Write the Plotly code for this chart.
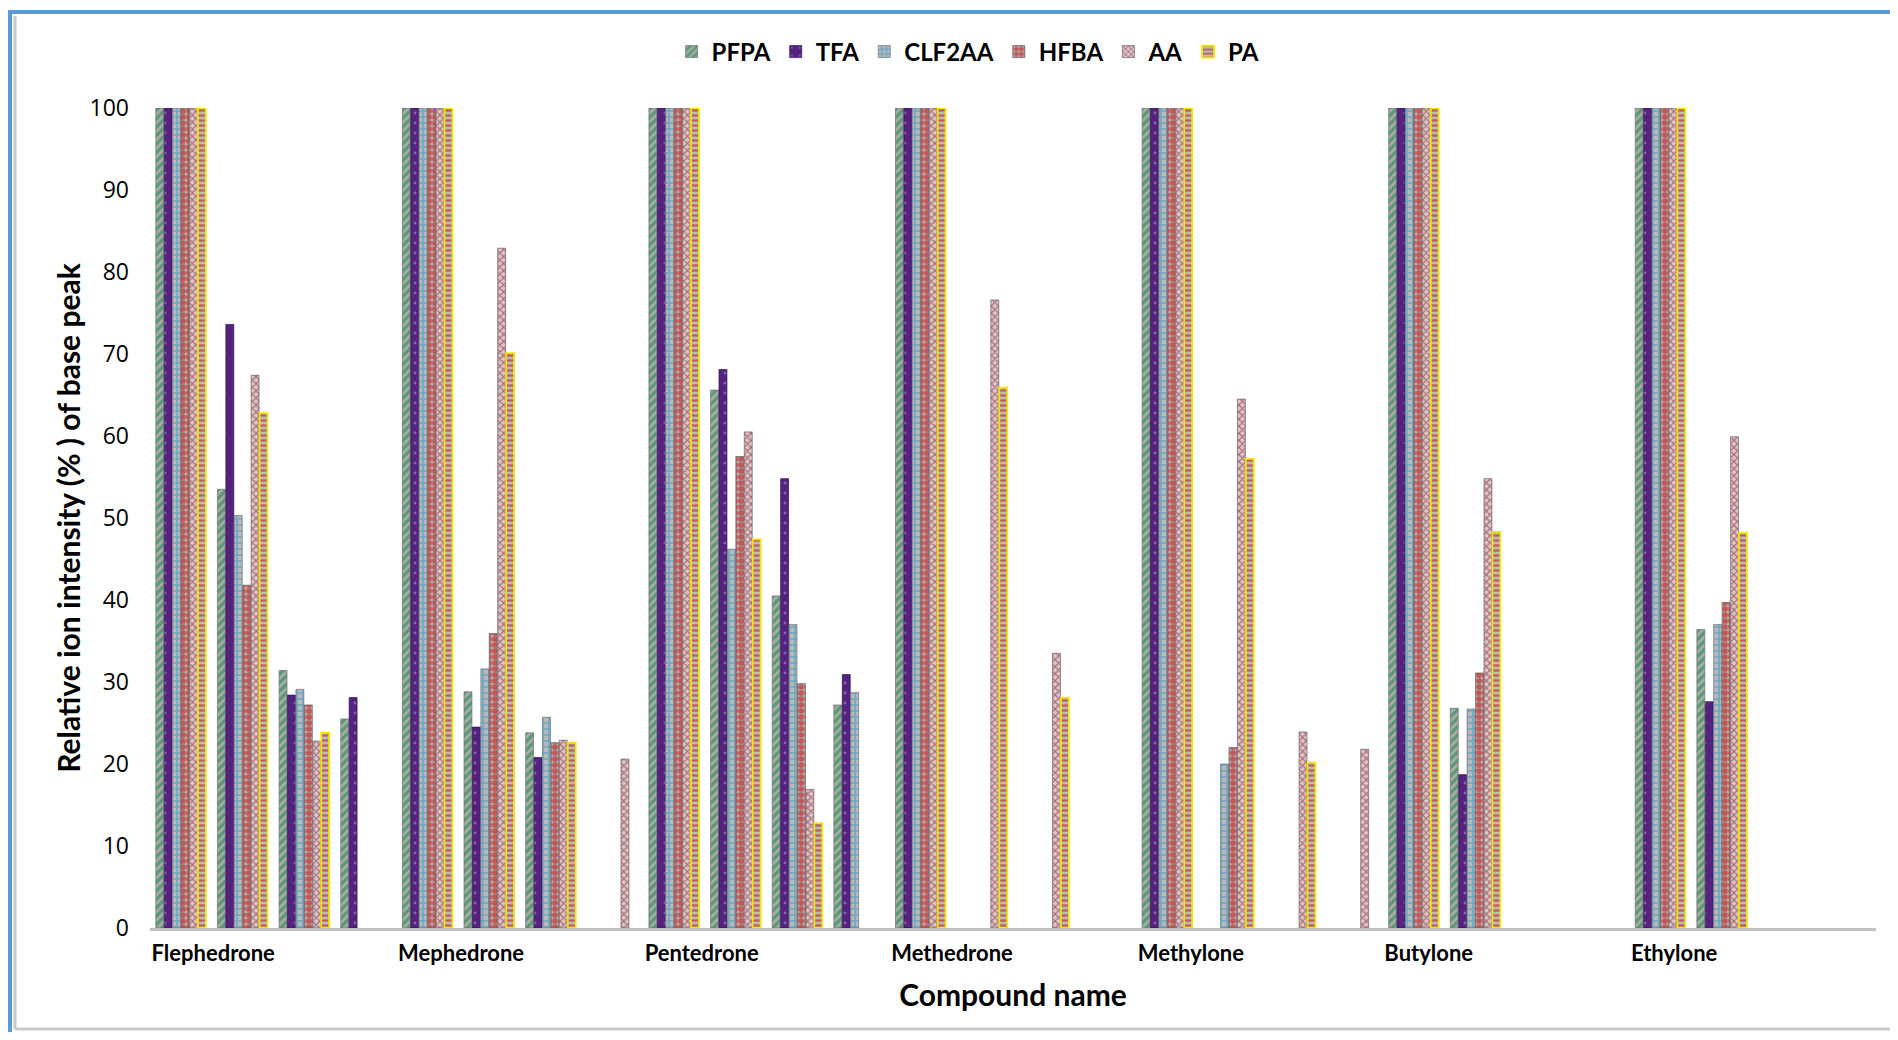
import plotly.graph_objects as go

# ---------------- data ----------------
compounds = ["Flephedrone", "Mephedrone", "Pentedrone", "Methedrone",
             "Methylone", "Butylone", "Ethylone"]
ions_per_compound = 4
reagents = ["PFPA", "TFA", "CLF2AA", "HFBA", "AA", "PA"]

N = None
pfpa = [100, 53.5, 31.4, 25.5,  100, 28.8, 23.8, N,  100, 65.6, 40.5, 27.2,  100, N, N, N,
        100, N, N, N,  100, 26.8, N, N,  100, 36.4, N, N]
tfa = [100, 73.6, 28.4, 28.1,  100, 24.5, 20.8, N,  100, 68.1, 54.8, 30.9,  100, N, N, N,
       100, N, N, N,  100, 18.7, N, N,  100, 27.6, N, N]
clf2aa = [100, 50.3, 29.1, N,  100, 31.6, 25.7, N,  100, 46.2, 37.0, 28.7,  100, N, N, N,
          100, 20.0, N, N,  100, 26.7, N, N,  100, 37.0, N, N]
hfba = [100, 41.8, 27.2, N,  100, 35.9, 22.6, N,  100, 57.5, 29.8, N,  100, N, N, N,
        100, 22.0, N, N,  100, 31.1, N, N,  100, 39.7, N, N]
aa = [100, 67.4, 22.8, N,  100, 82.9, 22.9, 20.6,  100, 60.5, 16.9, N,  100, 76.6, 33.5, N,
      100, 64.5, 23.9, 21.8,  100, 54.8, N, N,  100, 59.9, N, N]
pa = [100, 62.8, 23.8, N,  100, 70.1, 22.6, N,  100, 47.4, 12.8, N,  100, 65.9, 28.1, N,
      100, 57.2, 20.2, N,  100, 48.3, N, N,  100, 48.2, N, N]

y_ticks = [0, 10, 20, 30, 40, 50, 60, 70, 80, 90, 100]
series = [pfpa, tfa, clf2aa, hfba, aa, pa]

# ---------------- styles ----------------
styles = {
    "PFPA":   dict(color="#ababab", fg="#088a3a", shape="/", size=6, sol=0.55, line="#6e6e6e", lw=0.7),
    "TFA":    dict(color="#55237f", fg="#b7a6d6", shape=".", size=10, sol=0.06, line="#2e0f50", lw=0.7),
    "CLF2AA": dict(color="#b9b9b9", fg="#1797d6", shape="+", size=6, sol=0.45, line="#6e6e6e", lw=0.7),
    "HFBA":   dict(color="#acacac", fg="#e00000", shape=".", size=6, sol=0.7, line="#5a5a5a", lw=0.7),
    "AA":     dict(color="#dac6c8", fg="#7a1020", shape="x", size=5, sol=0.4, line="#6e5e5e", lw=0.7),
    "PA":     dict(color="#bababa", fg="#c00000", shape="-", size=5, sol=0.45, line="#f5e400", lw=1.8),
}

n_cat = len(compounds) * ions_per_compound
x = list(range(n_cat))

fig = go.Figure()
for name, vals in zip(reagents, series):
    s = styles[name]
    fig.add_trace(go.Bar(
        x=x, y=vals, name=name,
        marker=dict(
            color=s["color"],
            line=dict(color=s["line"], width=s["lw"]),
            pattern=dict(shape=s["shape"], fgcolor=s["fg"], bgcolor=s["color"],
                         size=s["size"], solidity=s["sol"], fillmode="overlay"),
        ),
    ))

# ---------------- layout geometry (figure pixels; page adds an 8px body margin) ----------------
W, H = 1882, 1024
L, R, T, B = 142, 14, 100, 104
pw, ph = W - L - R, H - T - B


def px(xp):
    return (xp - L) / pw


def py(yp):
    return (H - B - yp) / ph


font_family = "Lato, 'Open Sans', 'Liberation Sans', sans-serif"

fig.update_layout(
    width=W, height=H,
    margin=dict(l=L, r=R, t=T, b=B),
    paper_bgcolor="white", plot_bgcolor="white",
    barmode="group", bargap=0.18, bargroupgap=0.06,
    font=dict(family=font_family, color="#000000"),
    showlegend=True,
    legend=dict(
        orientation="h", x=0.474, xanchor="center", y=py(44), yanchor="middle",
        font=dict(size=24, weight=700, family=font_family),
        itemwidth=30, traceorder="normal", bgcolor="rgba(0,0,0,0)",
    ),
    xaxis=dict(
        range=[-0.5, n_cat - 0.5],
        tickvals=[ions_per_compound * i - 0.5 for i in range(len(compounds))],
        ticktext=compounds,
        ticklabelposition="outside right",
        ticklabelstandoff=4,
        tickfont=dict(size=22, weight=700, family=font_family),
        ticks="", showgrid=False, zeroline=False,
        showline=True, linecolor="#c0c0c0", linewidth=3,
        title=dict(text="Compound name", font=dict(size=30, weight=700, family=font_family),
                   standoff=20),
    ),
    yaxis=dict(
        range=[0, 100],
        tickvals=y_ticks,
        tickfont=dict(size=23, family="'Open Sans', sans-serif"),
        ticks="", showgrid=False, zeroline=False, showline=False,
        ticklabelstandoff=20,
        title=dict(text="Relative ion intensity (% ) of base peak",
                   font=dict(size=30, weight=700, family=font_family), standoff=0),
    ),
)

# chart-area frame (blue top/left border with grey shadow)
frame = [
    dict(x0=px(0), x1=px(W), y0=py(4), y1=py(4), color="#5b9bd5", width=4),
    dict(x0=px(2), x1=px(2), y0=py(4), y1=py(H), color="#5b9bd5", width=4),
    dict(x0=px(7), x1=px(7), y0=py(8), y1=py(1021), color="#c8c8c8", width=3),
    dict(x0=px(7), x1=px(W), y0=py(1021), y1=py(1021), color="#c8c8c8", width=3),
]
for f in frame:
    fig.add_shape(type="line", xref="paper", yref="paper",
                  x0=f["x0"], x1=f["x1"], y0=f["y0"], y1=f["y1"],
                  line=dict(color=f["color"], width=f["width"]), layer="above")

fig.write_html("out.html")
